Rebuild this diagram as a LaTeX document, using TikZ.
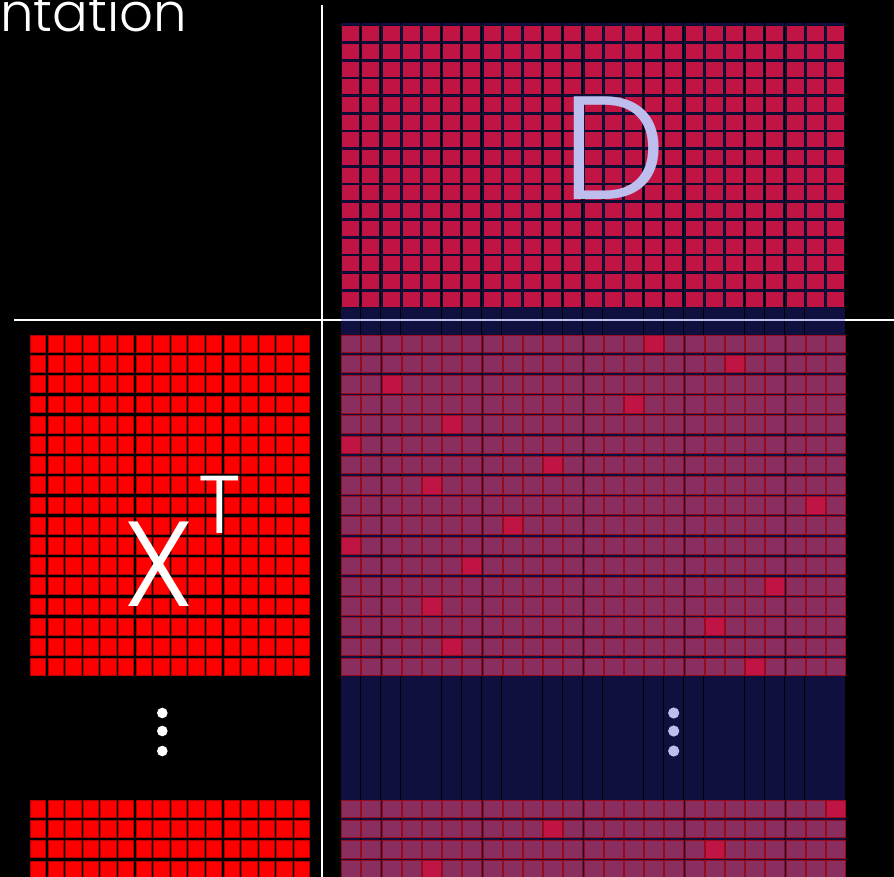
\documentclass[tikz,border=0pt]{standalone}
\usepackage{fontspec}
\newfontfamily\popfont{Poppins Light}
\definecolor{navy}{RGB}{16,16,64}
\definecolor{crim}{RGB}{192,20,68}
\definecolor{mauve}{RGB}{138,45,95}
\definecolor{darkred}{RGB}{150,10,30}
\definecolor{lav}{RGB}{190,190,238}
\tikzset{
  navycol/.style={fill=navy, draw=none},
  dcell/.style={fill=crim, draw=navy!70!black, line width=0.6pt},
  pcell/.style={fill=mauve, draw=darkred, line width=0.8pt},
  hcell/.style={fill=crim, draw=darkred, line width=0.8pt},
  xcell/.style={fill=red, draw=red!70!black, line width=0.6pt},
  axisline/.style={white, line width=2pt},
  bigtext/.style={inner sep=0pt, anchor=base, font=\popfont}
}
\begin{document}
\begin{tikzpicture}[x=1pt, y=-1pt]
    \fill[black] (0,0) rectangle (894,877);
    \useasboundingbox (0,0) rectangle (894,877);
    % axes
    \draw[axisline] (322,5) -- (322,877);
    \draw[axisline] (14,320) -- (894,320);
    % columns of D
    \foreach \c in {0,...,24} {
        \fill[navycol] ({340.5+20.2*\c},23) rectangle +(19.5,854);
    }
    \draw[lav, line width=2pt] (340.5,320) -- (844.8,320);
    % D
    \foreach \c in {0,...,24} {
        \foreach \r in {0,...,15} {
            \draw[dcell] ({341.5+20.2*\c},{25.5+17.7*\r}) rectangle +(18,16);
        }
    }
    \node[bigtext, text=lav, font=\popfont\fontsize{147}{155}\selectfont] (dlabel) at (614.5,200) {D};
    % X^T, top rows
    \foreach \r in {0,...,16} {
        \foreach \c in {0,...,15} {
            \draw[xcell] ({30.3+17.6*\c},{335.3+20.2*\r}) rectangle +(15.4,16.8);
        }
        \foreach \c in {0,...,24} {
            \draw[pcell] ({341.5+20.2*\c},{335+20.2*\r}) rectangle +(19,17.5);
        }
    }
    % X^T, last rows
    \foreach \r in {0,...,3} {
        \foreach \c in {0,...,15} {
            \draw[xcell] ({30.3+17.6*\c},{800.3+20.2*\r}) rectangle +(15.4,16.8);
        }
        \foreach \c in {0,...,24} {
            \draw[pcell] ({341.5+20.2*\c},{800+20.2*\r}) rectangle +(19,17.5);
        }
    }
    % largest entries
    \foreach \r/\c in {0/15, 1/19, 2/2, 3/14, 4/5, 5/0, 6/10, 7/4, 8/23, 9/8,
                       10/0, 11/6, 12/21, 13/4, 14/18, 15/5, 16/20} {
        \draw[hcell] ({341.5+20.2*\c},{335+20.2*\r}) rectangle +(19,17.5);
    }
    \foreach \r/\c in {0/24, 1/10, 2/18, 3/4} {
        \draw[hcell] ({341.5+20.2*\c},{800+20.2*\r}) rectangle +(19,17.5);
    }
    \node[bigtext, text=white, font=\popfont\fontsize{121}{125}\selectfont] (xlabel) at (158.5,606) {X};
    \node[bigtext, text=white, font=\popfont\fontsize{82}{85}\selectfont] (tlabel) at (219.5,533) {T};
    % dots
    \foreach \y in {713,731,751} {
        \fill[white] (162.3,\y) circle (5.3);
        \fill[lav] (673.7,\y) circle (5.6);
    }
    \node[inner sep=0pt, anchor=base west, text=white, font=\popfont\fontsize{53}{55}\selectfont] (title) at (0,32) {ntation};
\end{tikzpicture}
\end{document}
